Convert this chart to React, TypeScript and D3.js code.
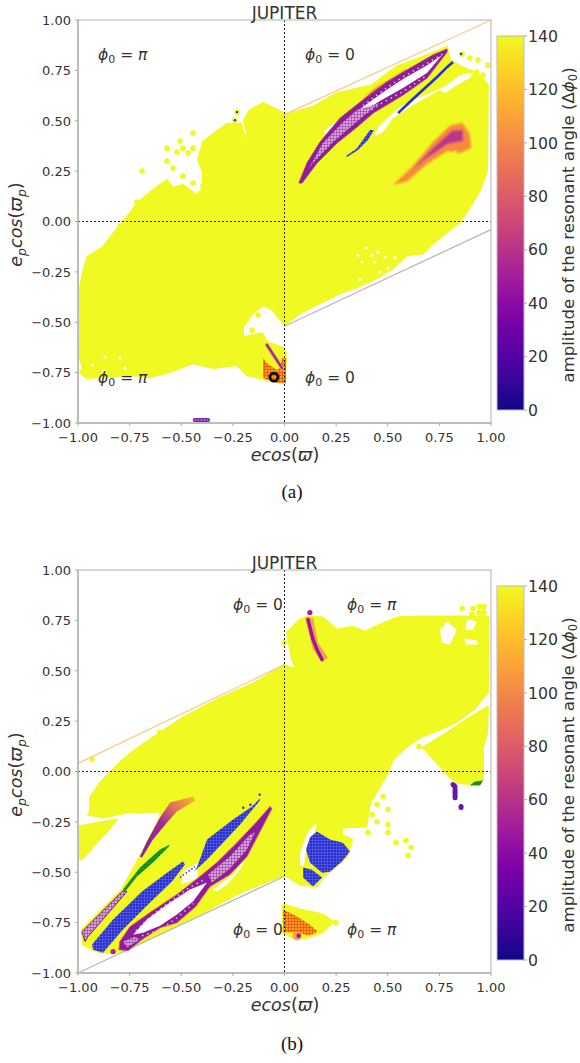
import React from "react";
import * as d3 from "d3";

type P = [number, number];

const axisTicks = [-1, -0.75, -0.5, -0.25, 0, 0.25, 0.5, 0.75, 1];
const ampTicks = [0, 20, 40, 60, 80, 100, 120, 140];

// ---------- panel (a)
const aYellow: P[] = [[-.002,.538],[-.104,.588],[-.167,.553],[-.196,.503],[-.182,.439],[-.177,.369],[-.21,.485],[-.278,.484],[-.346,.434],[-.395,.394],[-.419,.305],[-.395,.245],[-.395,.166],[-.424,.131],[-.492,.181],[-.54,.166],[-.569,.206],[-.637,.156],[-.714,.091],[-.748,.042],[-.797,-.018],[-.879,-.127],[-.956,-.177],[-.981,-.276],[-1,-.39],[-.99,-.688],[-.976,-.722],[-.99,-.752],[-.956,-.777],[-.893,-.772],[-.748,-.762],[-.651,-.772],[-.554,-.747],[-.443,-.703],[-.346,-.727],[-.23,-.712],[-.182,-.762],[-.085,-.787],[.002,-.802],[.007,-.653],[-.007,-.628],[-.085,-.598],[-.109,-.554],[-.201,-.574],[-.201,-.524],[-.153,-.454],[-.104,-.415],[-.056,-.44],[-.007,-.504],[.002,-.514],[.075,-.454],[.172,-.405],[.269,-.355],[.351,-.325],[.448,-.281],[.525,-.231],[.593,-.167],[.671,-.157],[.739,-.092],[.816,-.028],[.85,-.003],[.889,.057],[.947,.156],[.981,.255],[.985,.677],[.932,.737],[.86,.766],[.801,.801],[.787,.866],[.68,.82],[.545,.77],[.42,.675],[.25,.635],[.14,.57],[.002,.53]];
const aDots: P[] = [[-.23,.543],[-.24,.503],[-.443,.439],[-.506,.399],[-.569,.364],[-.521,.345],[-.492,.364],[-.443,.364],[-.467,.34],[-.569,.3],[-.54,.265],[-.69,.25],[-.492,.225],[-.443,.191],[-.395,.176],[-.714,.096],[-.797,-.023],[-.128,-.464],[-.157,-.539],[.86,.831],[.898,.811],[.937,.801],[.985,.776],[.932,.742],[.961,.727]];
const aBlueDots: P[] = [[-.23,.543],[-.24,.503],[.855,.831]];
const aSlit: P[] = [[.429,.419],[.462,.479],[.559,.568],[.622,.603],[.739,.652],[.787,.677],[.85,.727],[.913,.737],[.898,.712],[.835,.677],[.777,.637],[.753,.652],[.622,.578],[.525,.513],[.477,.444]];
const aWhiteEdge: P[] = [[.186,.444],[.278,.518],[.26,.49],[.2,.435]];
const aLens: P[] = [[.07,.191],[.109,.29],[.172,.394],[.269,.513],[.38,.603],[.496,.692],[.608,.761],[.719,.826],[.787,.856],[.787,.841],[.69,.712],[.574,.628],[.429,.538],[.351,.469],[.254,.389],[.157,.29],[.085,.191]];
const aHole: P[] = [[.366,.558],[.477,.642],[.574,.707],[.69,.776],[.763,.826],[.69,.737],[.574,.662],[.462,.598],[.4,.558]];
const aHatch: P[] = [[.114,.255],[.186,.389],[.283,.493],[.351,.553],[.462,.588],[.404,.543],[.332,.479],[.235,.394],[.138,.29]];
const aArmDots: P[][] = [[[.38,.575],[.477,.65],[.574,.718],[.69,.785],[.78,.84]],[[.4,.54],[.462,.582],[.574,.645],[.69,.725]]];
const aHalo: P[] = [[.38,.603],[.43,.655],[.535,.72],[.59,.755],[.58,.702],[.48,.632],[.42,.59]];
const aBlue1: P[] = [[.298,.325],[.351,.364],[.414,.454],[.433,.454],[.404,.404],[.356,.355],[.303,.32]];
const aBlueLine: P[] = [[.55,.538],[.622,.608],[.739,.717],[.787,.766],[.816,.791]];
const aBlob: P[] = [[.525,.181],[.622,.275],[.719,.394],[.801,.475],[.86,.49],[.895,.439],[.905,.365],[.85,.34],[.787,.35],[.69,.285],[.593,.2]];
const aBlobCore: P[] = [[.62,.26],[.719,.365],[.81,.45],[.864,.455],[.865,.4],[.79,.385],[.69,.315]];
const aBlobSpecks: P[] = [[.787,.32],[.801,.29],[.826,.345],[.85,.32]];
const aRed: P[] = [[-.104,-.678],[-.085,-.703],[-.036,-.737],[-.022,-.727],[-.012,-.678],[.007,-.678],[.007,-.802],[-.036,-.802],[-.104,-.777]];
const aStreak: P[] = [[-.085,-.613],[-.012,-.727]];
const aRing: P[] = [[-.051,-.772]];
const aBar: P[] = [[-.435,-.985],[-.37,-.985]];
const aSpecks: P[] = [[-.93,-.712],[-.869,-.673],[-.875,-.74],[-.797,-.678],[-.772,-.727],[.356,-.167],[.395,-.132],[.424,-.167],[.453,-.152],[.487,-.177],[.535,-.177],[.375,-.201],[.438,-.201],[.501,-.231],[.366,-.286],[.462,-.251]];
const aOrangeLine: P[] = [[0,.53],[1,1]];
const aGrayLine: P[] = [[0,-.52],[1,-.04]];

// ---------- panel (b)
const bYellow: P[] = [[-.002,.53],[-.133,.446],[-.327,.357],[-.492,.267],[-.666,.149],[-.734,.099],[-.782,.06],[-.83,.01],[-.893,-.055],[-.942,-.129],[-.942,-.2],[-.952,-.213],[-.879,-.228],[-.763,-.204],[-.603,-.199],[-.603,-.228],[-.7,-.422],[-.787,-.586],[-.981,-.785],[-.976,-.859],[-.893,-.899],[-.782,-.894],[-.395,-.7],[-.215,-.601],[-.022,-.521],[.012,-.521],[.075,-.561],[.157,-.571],[.186,-.526],[.303,-.422],[.327,-.338],[.278,-.313],[.278,-.278],[.395,-.273],[.414,-.154],[.462,-.075],[.501,-.005],[.525,.06],[.593,.124],[.656,.169],[.753,.208],[.835,.248],[.913,.307],[.985,.392],[.985,.689],[.985,.769],[.753,.769],[.642,.769],[.545,.764],[.462,.729],[.39,.694],[.327,.719],[.254,.704],[.186,.764],[.114,.769],[.075,.754],[.012,.689],[.036,.555],[.051,.525],[.056,.516],[.027,.516]];
const bLeftPiece: P[] = [[-1,-.273],[-.811,-.238],[-.86,-.298],[-.927,-.372],[-.981,-.437],[-.995,-.427]];
const bRightPiece: P[] = [[.671,.119],[.787,.193],[.898,.267],[.985,.322],[.981,.193],[.961,.124],[.961,-.04],[.908,-.065],[.835,-.055],[.787,-.015],[.753,.025]];
const bBottomPiece: P[] = [[-.007,-.66],[.075,-.685],[.186,-.71],[.235,-.745],[.186,-.795],[.109,-.825],[.041,-.825],[-.007,-.8]];
const bDots: P[] = [[-.002,.64],[-.603,.193],[-.932,.06],[.477,-.124],[.448,-.164],[.501,-.189],[.424,-.213],[.448,-.248],[.501,-.263],[.404,-.303],[.501,-.303],[.54,-.353],[.588,-.343],[.613,-.377],[.598,-.417],[.651,.124],[.249,-.75],[.86,.809],[.913,.809],[.942,.819],[.966,.819],[.908,.779],[.942,.789],[.966,.789]];
const bHoles: P[] = [[.753,.704],[.787,.744],[.835,.704],[.801,.63],[.763,.64]];
const bHoles2: P[] = [[.884,.754],[.932,.744],[.913,.704],[.874,.704]];
const bHoles3: P[] = [[.87,.66],[.93,.65],[.94,.63],[.88,.63]];
const bSlit: P[] = [[.075,-.402],[.114,-.298],[.157,-.253],[.148,-.298],[.104,-.387],[.095,-.467],[.075,-.467]];
const bBlueA: P[] = [[.157,-.298],[.22,-.338],[.283,-.353],[.317,-.397],[.278,-.447],[.22,-.497],[.182,-.502],[.123,-.452],[.104,-.387],[.123,-.328]];
const bBlueB: P[] = [[.09,-.477],[.133,-.487],[.182,-.526],[.138,-.571],[.09,-.526]];
const bRed: P[] = [[-.007,-.685],[.061,-.72],[.123,-.76],[.162,-.795],[.114,-.815],[.061,-.795],[-.007,-.8]];
const bRedBlob: P[] = [[.061,-.815]];
const bStreakHalo: P[] = [[.099,.764],[.138,.764],[.162,.64],[.211,.565],[.182,.546],[.138,.605]];
const bStreak: P[] = [[.114,.754],[.138,.655],[.162,.595],[.182,.555]];
const bStreakDot: P[] = [[.123,.789]];
const bBandA: P[] = [[-.981,-.795],[-.782,-.591],[-.763,-.596],[-.952,-.82],[-.966,-.844]];
const bGreen: P[] = [[-.782,-.586],[-.7,-.477],[-.603,-.387],[-.554,-.362],[-.564,-.377],[-.637,-.452],[-.714,-.521],[-.772,-.596]];
const bGreenRight: P[] = [[.898,-.07],[.922,-.05],[.961,-.045],[.947,-.07]];
const bBandB: P[] = [[-.7,-.422],[-.666,-.348],[-.603,-.228],[-.554,-.154],[-.443,-.124],[-.433,-.144],[-.521,-.199],[-.569,-.253],[-.637,-.338],[-.69,-.427]];
const bBlueLow: P[] = [[-.932,-.859],[-.83,-.735],[-.69,-.596],[-.569,-.502],[-.492,-.447],[-.482,-.462],[-.545,-.546],[-.651,-.65],[-.782,-.784],[-.879,-.899],[-.927,-.884]];
const bBlueUp: P[] = [[-.424,-.477],[-.375,-.338],[-.249,-.238],[-.157,-.174],[-.119,-.134],[-.119,-.144],[-.215,-.263],[-.298,-.353],[-.375,-.437],[-.438,-.497]];
const bBlueDash: P[] = [[-.506,-.526],[-.433,-.472]];
const bBlueDots: P[] = [[-.12,-.115],[-.165,-.165],[-.2,-.18]];
const bLens: P[] = [[-.07,-.174],[-.133,-.248],[-.23,-.353],[-.327,-.452],[-.409,-.521],[-.521,-.611],[-.651,-.7],[-.748,-.77],[-.797,-.844],[-.802,-.884],[-.758,-.889],[-.69,-.834],[-.603,-.775],[-.521,-.75],[-.43,-.67],[-.361,-.571],[-.264,-.511],[-.182,-.422],[-.119,-.298],[-.061,-.184]];
const bHole: P[] = [[-.734,-.81],[-.666,-.735],[-.569,-.66],[-.458,-.586],[-.375,-.551],[-.443,-.645],[-.521,-.71],[-.603,-.765],[-.685,-.8]];
const bHatch1: P[] = [[-.37,-.511],[-.264,-.422],[-.167,-.313],[-.143,-.303],[-.182,-.387],[-.264,-.482],[-.351,-.551]];
const bHatch2: P[] = [[-.782,-.844],[-.724,-.82],[-.7,-.834],[-.763,-.874]];
const bArmDots: P[][] = [[[-.72,-.79],[-.65,-.72],[-.56,-.65],[-.46,-.575],[-.385,-.535]],[[-.69,-.815],[-.6,-.785],[-.52,-.725],[-.44,-.655]]];
const bWhiteCrescent: P[] = [[-.346,-.586],[-.249,-.511],[-.191,-.437],[-.215,-.487],[-.278,-.561],[-.327,-.596]];
const bGap: P[] = [[-.49,-.49],[-.425,-.455],[-.42,-.53],[-.5,-.56]];
const bLensDot: P[] = [[-.83,-.894]];
const bPurpleCaps: P[][] = [[[.816,-.065],[.826,-.075]],[[.826,-.09],[.826,-.13]],[[.855,-.174],[.855,-.179]]];
const bOrangeLine: P[] = [[-1,.04],[0,.53]];
const bGrayLine: P[] = [[-1,-1],[0,-.52]];

const W = 580, H = 1063;
const x = d3.scaleLinear().domain([-1, 1]).range([78, 491]);
const ampColor = d3.scaleSequential(d3.interpolatePlasma).domain([0, 140]);
const gradientStops = d3.range(0, 141, 10);

const TEXT = "#333";
const SANS = "'DejaVu Sans', sans-serif";
const YELLOW = "#f0f921";

const Phi = ({ px, py, val }: { px: number; py: number; val: string }) => (
  <text x={px} y={py} fontFamily={SANS} fontSize={15.5} fill={TEXT}>
    <tspan fontStyle="italic">ϕ</tspan>
    <tspan fontSize={11} dy={3}>0</tspan>
    <tspan dy={-3}> = </tspan>
    <tspan fontStyle={val === "π" ? "italic" : "normal"}>{val}</tspan>
  </text>
);

function Frame({ y, cbTop, cbBottom, gradId, phi, caption, captionY }: any) {
  const top = y.range()[1], bottom = y.range()[0];
  const cb = d3.scaleLinear().domain([0, 140]).range([cbBottom, cbTop]);
  return (
    <g>
      <line x1={x(0)} x2={x(0)} y1={top} y2={bottom} stroke="#222" strokeDasharray="2 2" strokeWidth={1} />
      <line x1={78} x2={491} y1={y(0)} y2={y(0)} stroke="#222" strokeDasharray="2 2" strokeWidth={1} />
      <rect x={78} y={top} width={413} height={bottom - top} fill="none" stroke="#bdbdbd" strokeWidth={1.2} />
      <line x1={78} x2={78} y1={top} y2={bottom} stroke="#bdbdbd" strokeWidth={2} />
      <line x1={78} x2={491} y1={bottom} y2={bottom} stroke="#bdbdbd" strokeWidth={2} />
      {axisTicks.map((t) => (
        <g key={t}>
          <line x1={x(t)} x2={x(t)} y1={bottom} y2={bottom + 3} stroke="#aaa" />
          <line x1={75} x2={78} y1={y(t)} y2={y(t)} stroke="#aaa" />
          <text x={x(t)} y={bottom + 19} textAnchor="middle" fontFamily={SANS} fontSize={13} fill={TEXT}>
            {d3.format(".2f")(t).replace("-", "−")}
          </text>
          <text x={71} y={y(t) + 4.8} textAnchor="end" fontFamily={SANS} fontSize={13} fill={TEXT}>
            {d3.format(".2f")(t).replace("-", "−")}
          </text>
        </g>
      ))}
      <text x={284.5} y={top - 1} textAnchor="middle" fontFamily={SANS} fontSize={17} fill={TEXT}>JUPITER</text>
      <text x={285} y={bottom + 38} textAnchor="middle" fontFamily={SANS} fontSize={17.5} fontStyle="italic" fill={TEXT}>
        ecos<tspan fontStyle="normal">(</tspan>ϖ<tspan fontStyle="normal">)</tspan>
      </text>
      <text transform={`translate(22,${(top + bottom) / 2 + 3}) rotate(-90)`} textAnchor="middle" fontFamily={SANS} fontSize={17.5} fontStyle="italic" fill={TEXT}>
        e<tspan fontSize={12.5} dy={4}>p</tspan><tspan dy={-4}>cos</tspan><tspan fontStyle="normal">(</tspan>ϖ<tspan fontSize={12.5} dy={4}>p</tspan><tspan dy={-4} fontStyle="normal">)</tspan>
      </text>
      {phi.map((p: any, i: number) => <Phi key={i} px={p[0]} py={p[1]} val={p[2]} />)}
      <rect x={497} y={cbTop} width={27} height={cbBottom - cbTop} fill={`url(#${gradId})`} stroke="#bbb" strokeWidth={1} />
      {ampTicks.map((t) => (
        <g key={t}>
          <line x1={524} x2={527} y1={cb(t)} y2={cb(t)} stroke="#aaa" />
          <text x={528} y={cb(t) + 5.7} fontFamily={SANS} fontSize={15.7} fill={TEXT}>{t}</text>
        </g>
      ))}
      <text transform={`translate(574,${(cbTop + cbBottom) / 2 + 2}) rotate(-90)`} textAnchor="middle" fontFamily={SANS} fontSize={16.6} fill={TEXT}>
        amplitude of the resonant angle (Δ<tspan fontStyle="italic">ϕ</tspan><tspan fontSize={11.5} dy={3}>0</tspan><tspan dy={-3}>)</tspan>
      </text>
      <text x={292} y={captionY} textAnchor="middle" fontFamily="'Liberation Serif', serif" fontSize={19} fill="#111">{caption}</text>
    </g>
  );
}

function PanelA() {
  const y = d3.scaleLinear().domain([-1, 1]).range([423, 20]);
  const poly = d3.line<P>().x((d) => x(d[0])).y((d) => y(d[1])).curve(d3.curveLinearClosed);
  const path = d3.line<P>().x((d) => x(d[0])).y((d) => y(d[1]));
  const dots = (arr: P[], r: number, fill: string) => arr.map((d, i) => <circle key={i} cx={x(d[0])} cy={y(d[1])} r={r} fill={fill} />);
  return (
    <g>
      <g filter="url(#soft)">
        <path d={poly(aYellow)!} fill={YELLOW} stroke={YELLOW} strokeWidth={2} strokeLinejoin="round" />
        {dots(aDots, 2.8, YELLOW)}
        {dots(aSpecks, 1.5, "#fff")}
        <path d={poly(aSlit)!} fill="#fff" />
        <path d={poly(aWhiteEdge)!} fill="#fff" />
        <path d={path(aOrangeLine)!} stroke="#fcc98c" strokeWidth={1.3} fill="none" />
        <path d={path(aGrayLine)!} stroke="#b8b8b8" strokeWidth={1.3} fill="none" />
        <g filter="url(#blur1)">
          <path d={poly(aHalo)!} fill="#e0703f" opacity={0.9} />
        </g>
        <path d={poly(aLens)!} fill="#8e1a9c" stroke="#a5358f" strokeWidth={1} strokeLinejoin="round" />
        <path d={poly(aHole)!} fill="#fff" />
        <path d={poly(aHatch)!} fill="url(#hatchPurple)" />
        {aArmDots.map((a, i) => <path key={i} d={path(a)!} stroke="#e4c2e4" strokeWidth={1.5} strokeDasharray="1.5 4" fill="none" />)}
        <path d={poly(aBlue1)!} fill="url(#hatchBlue)" />
        <path d={path(aBlueLine)!} stroke="#2233d0" strokeWidth={2.6} fill="none" />
        {dots(aBlueDots, 1.2, "#2b2bc8")}
        <g filter="url(#blur1)">
          <path d={poly(aBlob)!} fill="#f88a3a" />
          <path d={poly(aBlobCore)!} fill="#bb3488" />
        </g>
        {dots(aBlobSpecks, 1.5, YELLOW)}
        <path d={poly(aRed)!} fill="url(#hatchRed)" />
        <path d={path(aStreak)!} stroke="#f3a14e" strokeWidth={4} fill="none" strokeLinecap="round" />
        <path d={path(aStreak)!} stroke="#8e2aa8" strokeWidth={2.2} fill="none" strokeLinecap="round" />
        {aRing.map((d, i) => <circle key={i} cx={x(d[0])} cy={y(d[1])} r={4} fill="none" stroke="#000" strokeWidth={2.8} />)}
        <path d={path(aBar)!} stroke="#7a2ab0" strokeWidth={4} strokeLinecap="round" fill="none" />
        <path d={path(aBar)!} stroke="#d8b8ea" strokeWidth={1} strokeDasharray="1.5 1.5" fill="none" />
      </g>
      <Frame y={y} cbTop={36} cbBottom={410} gradId="plasmaA" caption="(a)" captionY={498}
        phi={[[98, 60, "π"], [305, 60, "0"], [98, 383, "π"], [305, 383, "0"]]} />
    </g>
  );
}

function PanelB() {
  const y = d3.scaleLinear().domain([-1, 1]).range([973, 570]);
  const poly = d3.line<P>().x((d) => x(d[0])).y((d) => y(d[1])).curve(d3.curveLinearClosed);
  const path = d3.line<P>().x((d) => x(d[0])).y((d) => y(d[1]));
  const dots = (arr: P[], r: number, fill: string) => arr.map((d, i) => <circle key={i} cx={x(d[0])} cy={y(d[1])} r={r} fill={fill} />);
  return (
    <g>
      <defs>
        <linearGradient id="bandB" gradientUnits="userSpaceOnUse" x1={x(-.7)} y1={y(-.43)} x2={x(-.44)} y2={y(-.13)}>
          <stop offset="0" stopColor="#7e1fa8" />
          <stop offset="0.5" stopColor="#9f2a98" />
          <stop offset="0.72" stopColor="#de6a5e" />
          <stop offset="1" stopColor="#fdb42f" />
        </linearGradient>
      </defs>
      <g filter="url(#soft)">
        <path d={poly(bYellow)!} fill={YELLOW} stroke={YELLOW} strokeWidth={2} strokeLinejoin="round" />
        <path d={poly(bLeftPiece)!} fill={YELLOW} stroke={YELLOW} strokeWidth={2} strokeLinejoin="round" />
        <path d={poly(bRightPiece)!} fill={YELLOW} stroke={YELLOW} strokeWidth={2} strokeLinejoin="round" />
        <path d={poly(bBottomPiece)!} fill={YELLOW} stroke={YELLOW} strokeWidth={2} strokeLinejoin="round" />
        {dots(bDots, 2.8, YELLOW)}
        <path d={poly(bHoles)!} fill="#fff" />
        <path d={poly(bHoles2)!} fill="#fff" />
        <path d={poly(bHoles3)!} fill="#fff" />
        <path d={poly(bSlit)!} fill="#fff" />
        <path d={poly(bGap)!} fill="#fff" />
        <path d={poly(bWhiteCrescent)!} fill="#fff" />
        <path d={path(bOrangeLine)!} stroke="#fcc98c" strokeWidth={1.3} fill="none" />
        <path d={path(bGrayLine)!} stroke="#b8b8b8" strokeWidth={1.3} fill="none" />
        <path d={poly(bStreakHalo)!} fill="#f3a14e" />
        <path d={path(bStreak)!} stroke="#a0189a" strokeWidth={3.5} fill="none" strokeLinecap="round" />
        {dots(bStreakDot, 2.6, "#9b1aa8")}
        <path d={poly(bBlueA)!} fill="url(#hatchBlue)" />
        <path d={poly(bBlueB)!} fill="url(#hatchBlue)" />
        <path d={poly(bRed)!} fill="url(#hatchRed)" />
        {bRedBlob.map((d, i) => (
          <g key={i}>
            <circle cx={x(d[0])} cy={y(d[1])} r={4.5} fill="#f4a14a" />
            <circle cx={x(d[0]) + 1.5} cy={y(d[1])} r={2.2} fill="#9b1aa8" />
          </g>
        ))}
        <path d={poly(bBandA)!} fill="url(#hatchPurple)" stroke="#6a1fa0" strokeWidth={1} />
        <path d={poly(bGreen)!} fill="url(#hatchGreen)" />
        <path d={poly(bGreenRight)!} fill="url(#hatchGreen)" />
        <g filter="url(#blur05)"><path d={poly(bBandB)!} fill="url(#bandB)" /></g>
        <path d={poly(bBlueLow)!} fill="url(#hatchBlue)" />
        <path d={poly(bBlueUp)!} fill="url(#hatchBlue)" />
        <path d={path(bBlueDash)!} stroke="#2b2bc8" strokeWidth={1.5} strokeDasharray="1.5 2" fill="none" />
        {dots(bBlueDots, 1.2, "#2b2bc8")}
        <path d={poly(bLens)!} fill="#8e1a9c" stroke="#c8507a" strokeWidth={1} strokeLinejoin="round" />
        <path d={poly(bHole)!} fill="#fff" />
        <path d={poly(bHatch1)!} fill="url(#hatchPurple)" />
        <path d={poly(bHatch2)!} fill="url(#hatchPurple)" />
        {bArmDots.map((a, i) => <path key={i} d={path(a)!} stroke="#e4c2e4" strokeWidth={1.5} strokeDasharray="1.5 4" fill="none" />)}
        {dots(bLensDot, 2.6, "#b0229a")}
        {bPurpleCaps.map((a, i) => <path key={i} d={path(a)!} stroke="#6a14a8" strokeWidth={5} strokeLinecap="round" fill="none" />)}
      </g>
      <Frame y={y} cbTop={586} cbBottom={960} gradId="plasmaB" caption="(b)" captionY={1050}
        phi={[[233, 610, "0"], [347, 610, "π"], [233, 935, "0"], [347, 935, "π"]]} />
    </g>
  );
}

const Hatch = ({ id, base, line, w = 1 }: { id: string; base: string; line: string; w?: number }) => (
  <pattern id={id} width={3} height={3} patternUnits="userSpaceOnUse">
    <rect width={3} height={3} fill={base} />
    <path d="M0 0H3M0 0V3" stroke={line} strokeWidth={w} fill="none" />
  </pattern>
);

export default function App() {
  return (
    <svg width={W} height={H} viewBox={`0 0 ${W} ${H}`} style={{ position: "absolute", left: 0, top: 0, background: "#fff" }}>
      <defs>
        <filter id="soft" x="-5%" y="-5%" width="110%" height="110%"><feGaussianBlur stdDeviation="0.4" /></filter>
        <filter id="blur1" x="-20%" y="-20%" width="140%" height="140%"><feGaussianBlur stdDeviation="1.1" /></filter>
        <filter id="blur05" x="-20%" y="-20%" width="140%" height="140%"><feGaussianBlur stdDeviation="0.7" /></filter>
        {["plasmaA", "plasmaB"].map((id) => (
          <linearGradient key={id} id={id} x1="0" y1="1" x2="0" y2="0">
            {gradientStops.map((v) => <stop key={v} offset={v / 140} stopColor={ampColor(v)} />)}
          </linearGradient>
        ))}
        <Hatch id="hatchPurple" base="#d7a5d2" line="#8e2aa0" />
        <Hatch id="hatchBlue" base="#2a2fd0" line="#7a88ee" w={0.7} />
        <Hatch id="hatchGreen" base="#1a9a22" line="#0b7a12" />
        <Hatch id="hatchRed" base="#f6a01e" line="#f22c08" />
      </defs>
      <PanelA />
      <PanelB />
    </svg>
  );
}
